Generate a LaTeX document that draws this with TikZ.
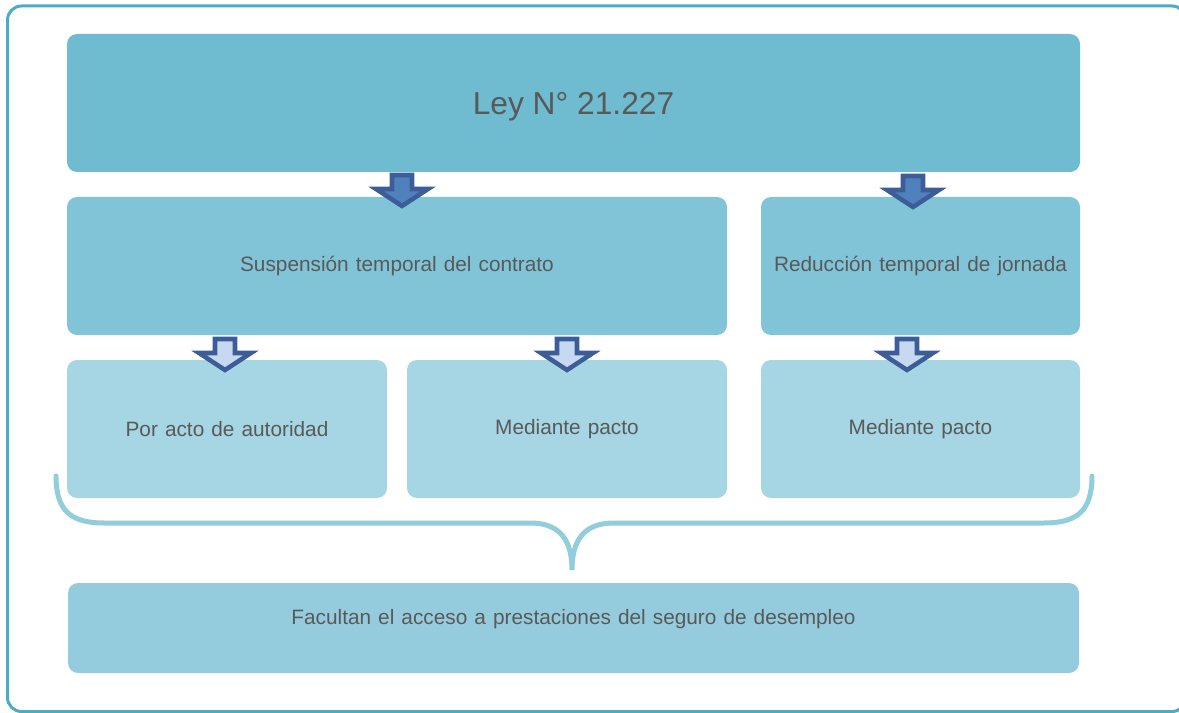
\documentclass[tikz,border=0pt]{standalone}
\usepackage{fontspec}
\setmainfont{Liberation Sans}

\definecolor{frameblue}{HTML}{4BACC6}
\definecolor{leyblue}{HTML}{6FBBD0}
\definecolor{midblue}{HTML}{81C4D7}
\definecolor{lowblue}{HTML}{A6D5E3}
\definecolor{footblue}{HTML}{95CCDD}
\definecolor{braceblue}{HTML}{92CDDC}
\definecolor{arrowedge}{HTML}{3C5D98}
\definecolor{arrowdark}{HTML}{4F81BD}
\definecolor{arrowlight}{HTML}{C6D9F1}
\definecolor{textgray}{HTML}{595959}

\newcommand\boxfont{\fontsize{15.6}{19}\selectfont\spaceskip=0.34em\relax}

\tikzset{
  box/.style={rectangle, rounded corners=7.5pt, inner sep=0pt, text=textgray,
    font=\boxfont},
  downarrow/.pic={
    \filldraw[line width=3.4pt, draw=arrowedge, line join=miter]
      (-10,2) -- (10,2) -- (10,16) -- (26,16) -- (0,33) -- (-26,16) -- (-10,16) -- cycle;
  },
  darkarrow/.style={fill=arrowdark},
  lightarrow/.style={fill=arrowlight}
}

\begin{document}
\begin{tikzpicture}[x=0.75pt,y=-0.75pt]
	\useasboundingbox (0,0) rectangle (1179,713);
	\draw [frameblue, line width=2.25pt, rounded corners=10.5pt] (7.5,6) rectangle (1186,711.5);
	% boxes
	\node [box, fill=leyblue, minimum width=759.75pt, minimum height=103.5pt,
	  font=\fontsize{23.8}{28}\selectfont, text height=17pt, text depth=0pt] (ley) at (573.5,103) {Ley N° 21.227};
	\node [box, fill=midblue, minimum width=495pt, minimum height=103.5pt] (susp) at (397,266) {Suspensión temporal del contrato};
	\node [box, fill=midblue, minimum width=239.25pt, minimum height=103.5pt] (redu) at (920.5,266) {Reducción temporal de jornada};
	\node [box, fill=lowblue, minimum width=240pt, minimum height=103.5pt] (auto) at (227,429) {Por acto de autoridad};
	\node [box, fill=lowblue, minimum width=240pt, minimum height=103.5pt] (pacto1) at (567,429) {Mediante pacto};
	\node [box, fill=lowblue, minimum width=239.25pt, minimum height=103.5pt] (pacto2) at (920.5,429) {Mediante pacto};
	\node [box, fill=footblue, minimum width=758.25pt, minimum height=67.5pt,
	  text height=0pt, text depth=5.1pt] (seguro) at (573.5,628) {Facultan el acceso a prestaciones del seguro de desempleo};
	% block arrows
	\pic [darkarrow] at (402,173) {downarrow};
	\pic [darkarrow] at (913,174) {downarrow};
	\pic [lightarrow] at (225,337) {downarrow};
	\pic [lightarrow] at (567,337) {downarrow};
	\pic [lightarrow] at (907,337) {downarrow};
	% brace
	\draw [braceblue, line width=3.75pt, line cap=round]
	  (56,476) .. controls (56,510) and (70,523) .. (104,523) -- (530,523)
	  .. controls (560,523) and (572,540) .. (572,570)
	  .. controls (572,540) and (584,523) .. (614,523) -- (1044,523)
	  .. controls (1078,523) and (1092,510) .. (1092,476);
\end{tikzpicture}
\end{document}
